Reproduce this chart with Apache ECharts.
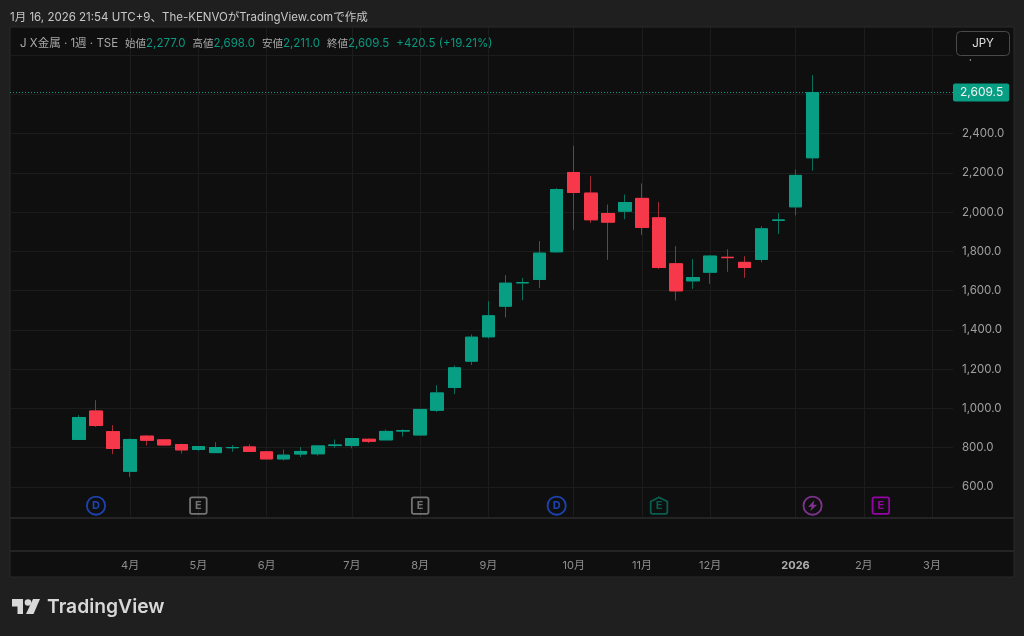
<!DOCTYPE html>
<html>
<head>
<meta charset="utf-8">
<style>
  html, body { margin: 0; padding: 0; background: #1f1f1f; }
  #main { width: 1024px; height: 636px; }
</style>
</head>
<body>
<div id="main"></div>
<script src="https://cdn.jsdelivr.net/npm/echarts@6/dist/echarts.min.js"></script>
<script>
// weekly candles
var opens  = [842, 987, 882, 680, 859, 840, 816, 791, 775, 800, 804, 779, 743, 768, 769, 811, 811, 843, 840, 885, 865, 991, 1107, 1241, 1365, 1521, 1640, 1657, 1798, 2202, 2097, 1993, 2005, 2070, 1971, 1737, 1650, 1694, 1770, 1744, 1759, 1958, 2027, 2277];
var closes = [954, 913, 796, 842, 838, 814, 789, 806, 801, 801, 781, 743, 762, 781, 809, 814, 847, 833, 883, 887, 995, 1079, 1207, 1363, 1472, 1638, 1641, 1791, 2115, 2100, 1961, 1949, 2049, 1922, 1718, 1599, 1667, 1776, 1768, 1718, 1915, 1960, 2187, 2609.5];
var lows   = [840, 906, 767, 651, 811, 811, 770, 784, 773, 779, 780, 743, 735, 753, 760, 799, 797, 824, 840, 857, 863, 982, 1074, 1222, 1356, 1463, 1551, 1614, 1793, 1910, 1945, 1757, 1964, 1884, 1711, 1550, 1609, 1635, 1696, 1665, 1744, 1889, 1983, 2211];
var highs  = [966, 1042, 915, 847, 864, 840, 821, 808, 828, 813, 818, 779, 791, 804, 812, 842, 849, 848, 893, 894, 996, 1118, 1219, 1377, 1546, 1679, 1665, 1852, 2122, 2338, 2183, 2039, 2090, 2146, 2051, 1827, 1760, 1781, 1811, 1776, 1929, 1995, 2217, 2698];

// y axis
var priceTicks = [600, 800, 1000, 1200, 1400, 1600, 1800, 2000, 2200, 2400, 2600, 2800];

// x axis: week index -> label
var monthTicks  = [3, 7, 11, 16, 20, 24, 29, 33, 37, 42, 46, 50];
var monthLabels = ['4月', '5月', '6月', '7月', '8月', '9月', '10月', '11月', '12月', '2026', '2月', '3月'];

// event markers under the candles
var eventWeeks  = [1, 7, 20, 28, 34, 43, 47];
var eventLabels = ['D', 'E', 'E', 'D', 'E', '', 'E'];
var eventKinds  = ['circle', 'square', 'square', 'circle', 'house', 'circle', 'square'];
var eventColors = ['#1f50d8', '#8c8c8c', '#8c8c8c', '#1f50d8', '#07705e', '#9c3bb0', '#b800cc'];
var eventPrice  = 505;

var upColor = '#089e84';
var downColor = '#f7374a';
var upWick = '#0b6f5e';
var downWick = '#a02a36';
var font = 'Inter, "Noto Sans CJK JP", sans-serif';

var symbols = {
  circle: 'circle',
  square: 'path://M2 0H16A2 2 0 0 1 18 2V16A2 2 0 0 1 16 18H2A2 2 0 0 1 0 16V2A2 2 0 0 1 2 0Z',
  house: 'path://M9 0L18 4.5V16A2 2 0 0 1 16 18H2A2 2 0 0 1 0 16V4.5Z'
};

var candles = [], bodies = [], events = [];
for (var i = 0; i < opens.length; i++) {
  candles.push([i, opens[i], closes[i], lows[i], highs[i]]);
  // second layer: bodies only, so wicks can have their own dimmer colour
  bodies.push([i, opens[i], closes[i], Math.min(opens[i], closes[i]), Math.max(opens[i], closes[i])]);
}
for (var j = 0; j < eventWeeks.length; j++) {
  events.push({
    value: [eventWeeks[j], eventPrice],
    symbol: symbols[eventKinds[j]],
    symbolSize: eventKinds[j] === 'circle' ? 18.2 : 16.6,
    itemStyle: { color: 'transparent', borderColor: eventColors[j], borderWidth: 1.8 },
    label: { show: true, position: 'inside', formatter: eventLabels[j], color: eventColors[j], fontSize: 11, fontWeight: 'bold', fontFamily: font }
  });
}

var chart = echarts.init(document.getElementById('main'));
var option = {
  animation: false,
  backgroundColor: '#1f1f1f',
  textStyle: { fontFamily: font },
  title: [{
    text: '1月 16, 2026 21:54 UTC+9、The-KENVOがTradingView.comで作成',
    left: 10, top: 12, padding: 0,
    textStyle: { color: '#c8c8c8', fontSize: 11.5, fontWeight: 'normal', fontFamily: font }
  }, {
    text: '{n|J X金属 · 1週 · TSE}{m|始値}{v|2,277.0}{m|高値}{v|2,698.0}{m|安値}{v|2,211.0}{m|終値}{v|2,609.5}{c|+420.5 (+19.21%)}',
    left: 20, top: 38, padding: 0,
    textStyle: {
      fontWeight: 'normal',
      rich: {
        n: { color: '#a8a8a8', fontSize: 11.5, fontFamily: font },
        m: { color: '#a8a8a8', fontSize: 10.5, fontFamily: font, padding: [0, 0, 0, 7] },
        v: { color: '#089981', fontSize: 11.5, fontFamily: font },
        c: { color: '#089981', fontSize: 11.5, fontFamily: font, padding: [0, 0, 0, 7] }
      }
    }
  }],
  grid: { left: 10, right: 71, top: 27, bottom: 118 },
  xAxis: {
    type: 'value',
    min: -4.04,
    max: 51.23,
    axisLine: { show: false },
    axisTick: { show: false, customValues: monthTicks },
    axisLabel: {
      customValues: monthTicks,
      margin: 42,
      color: '#8e8e8e',
      fontSize: 11,
      formatter: function (v) {
        var s = monthLabels[monthTicks.indexOf(v)];
        return s === '2026' ? '{y|2026}' : s;
      },
      rich: { y: { color: '#b0b0b0', fontSize: 11, fontWeight: 'bold', fontFamily: font } }
    },
    splitLine: { lineStyle: { color: '#1c1c1c', width: 1 } }
  },
  yAxis: {
    type: 'value',
    position: 'right',
    min: 442,
    max: 2943,
    axisLine: { show: false },
    axisTick: { show: false, customValues: priceTicks },
    axisLabel: {
      customValues: priceTicks,
      margin: 9,
      color: '#a0a0a0',
      fontSize: 11.5,
      formatter: function (v) {
        return v.toLocaleString('en-US', { minimumFractionDigits: 1 });
      }
    },
    splitLine: { lineStyle: { color: '#1c1c1c', width: 1 } }
  },
  series: [{
    type: 'candlestick',
    data: candles,
    encode: { x: 0, y: [1, 2, 3, 4] },
    barWidth: 13,
    itemStyle: { color: upWick, color0: downWick, borderColor: upWick, borderColor0: downWick, borderWidth: 1 },
    markLine: {
      silent: true,
      symbol: 'none',
      z: 5,
      lineStyle: { color: '#089981', type: [1, 2], width: 1 },
      label: {
        position: 'end',
        distance: 0,
        formatter: '2,609.5',
        color: '#f2f2f2',
        fontSize: 12,
        backgroundColor: '#089e84',
        borderRadius: 2,
        padding: [3, 6, 3, 7]
      },
      data: [{ yAxis: closes[closes.length - 1] }]
    }
  }, {
    type: 'candlestick',
    data: bodies,
    encode: { x: 0, y: [1, 2, 3, 4] },
    barWidth: 13,
    itemStyle: { color: upColor, color0: downColor, borderColor: upColor, borderColor0: downColor, borderWidth: 1 }
  }, {
    type: 'scatter',
    data: events,
    z: 6
  }, {
    // bolt inside the purple circle
    type: 'scatter',
    data: [[eventWeeks[5], eventPrice]],
    symbol: 'path://M6 0L0 6.5H3.5L2 11L8.5 4.5H5Z',
    symbolSize: [9, 11],
    itemStyle: { color: eventColors[5] },
    z: 7
  }],
  graphic: [
    // panel behind everything
    { type: 'rect', z: -10, shape: { x: 10, y: 27, width: 1004, height: 550 }, style: { fill: '#0f0f0f', stroke: '#2a2a2a', lineWidth: 1 } },
    // pane separators
    { type: 'line', z: 1, shape: { x1: 10, y1: 518, x2: 1014, y2: 518 }, style: { stroke: '#2c2c2c', lineWidth: 1.5 } },
    { type: 'line', z: 1, shape: { x1: 10, y1: 551, x2: 1014, y2: 551 }, style: { stroke: '#2c2c2c', lineWidth: 1.5 } },
    // currency button, hides most of the 2,800 label
    { type: 'rect', z: 49, shape: { x: 954, y: 28, width: 59, height: 31 }, style: { fill: '#0f0f0f' } },
    {
      type: 'rect', z: 50,
      shape: { x: 956.5, y: 31.5, width: 53, height: 24, r: 4 },
      style: { fill: '#0f0f0f', stroke: '#4a4a4a', lineWidth: 1 }
    },
    {
      type: 'text', z: 51, x: 983, y: 43.5,
      style: { text: 'JPY', fill: '#e0e0e0', font: '11.5px ' + font, textAlign: 'center', textVerticalAlign: 'middle' }
    },
    // TradingView logo
    { type: 'polygon', z: 5, shape: { points: [[12, 599], [23, 599], [23, 614], [17.5, 614], [17.5, 606.5], [12, 606.5]] }, style: { fill: '#d8d8d8' } },
    { type: 'circle', z: 5, shape: { cx: 28, cy: 602.5, r: 3.3 }, style: { fill: '#d8d8d8' } },
    { type: 'polygon', z: 5, shape: { points: [[33, 599], [40, 599], [33.5, 614], [26, 614]] }, style: { fill: '#d8d8d8' } },
    {
      type: 'text', z: 5, x: 47, y: 607,
      style: { text: 'TradingView', fill: '#d8d8d8', font: '600 19.3px ' + font, textVerticalAlign: 'middle' }
    }
  ]
};
chart.setOption(option);
</script>
</body>
</html>
